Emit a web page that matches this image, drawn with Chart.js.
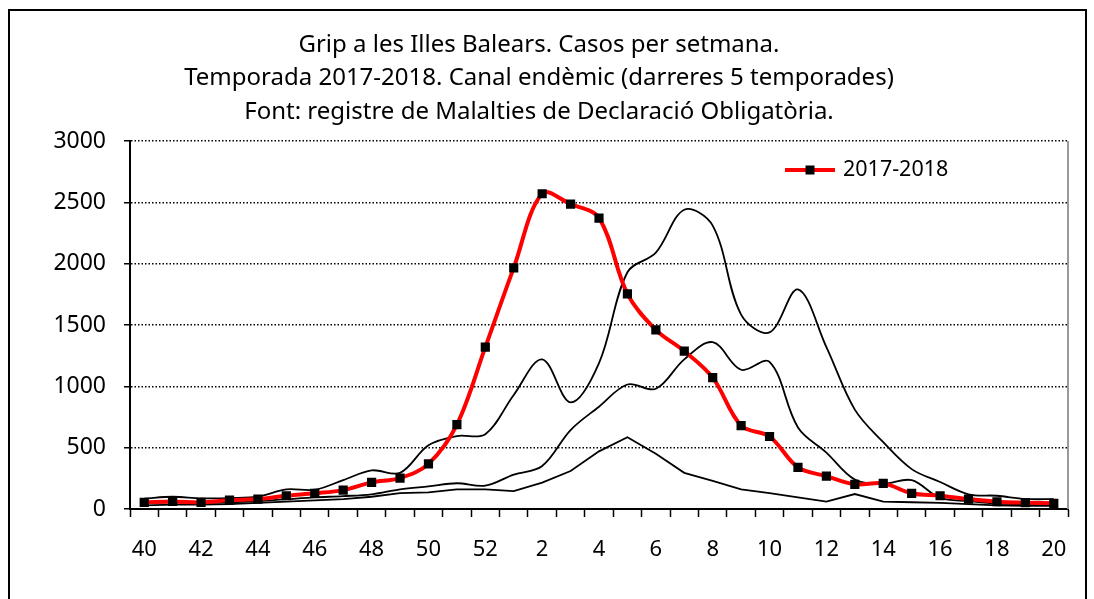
<!DOCTYPE html>
<html>
<head>
<meta charset="utf-8">
<script src="https://cdn.jsdelivr.net/npm/chart.js@4/dist/chart.umd.min.js"></script>
<style>
html,body{margin:0;padding:0;background:#fff;}
canvas{display:block;}
</style>
</head>
<body>
<canvas id="c" width="1094" height="599"></canvas>
<script>
// ---- data ----
const weeks = ['40','41','42','43','44','45','46','47','48','49','50','51','52',
  '1','2','3','4','5','6','7','8','9','10','11','12','13','14','15','16','17','18','19','20'];
const titleLines = [
  'Grip a les Illes Balears. Casos per setmana.',
  'Temporada 2017-2018. Canal endèmic (darreres 5 temporades)',
  'Font: registre de Malalties de Declaració Obligatòria.'
];
const seasonLabel = '2017-2018';
const season2017 = [54, 62, 54, 73, 81, 108, 128, 154, 217, 252, 368, 688, 1320, 1966, 2570, 2485, 2372,
  1754, 1461, 1287, 1071, 680, 591, 339, 268, 201, 209, 128, 108, 81, 59, 51, 46];
const channelHigh = [85, 100, 87, 90, 100, 160, 157, 235, 315, 295, 520, 595, 610, 930, 1220, 870, 1190,
  1930, 2090, 2440, 2310, 1585, 1440, 1790, 1320, 810, 545, 325, 220, 120, 108, 82, 80];
const channelMid = [50, 55, 50, 55, 65, 80, 95, 105, 120, 160, 185, 210, 190, 280, 350, 644, 834,
  1015, 980, 1220, 1360, 1135, 1200, 665, 460, 240, 205, 235, 90, 65, 45, 40, 40];
const channelLow = [30, 35, 35, 40, 50, 60, 70, 80, 100, 130, 135, 160, 160, 145, 215, 310, 470,
  585, 450, 295, 230, 160, 130, 95, 60, 122, 60, 55, 50, 40, 30, 25, 25];
const yTicks = [0, 500, 1000, 1500, 2000, 2500, 3000];

const FONT = '"Noto Sans", "Open Sans", sans-serif';

const framePlugin = {
  id: 'frame',
  beforeDraw(chart) {
    const ctx = chart.ctx;
    ctx.save();
    ctx.fillStyle = '#fff';
    ctx.fillRect(0, 0, chart.width, chart.height);
    ctx.strokeStyle = '#000';
    ctx.lineWidth = 2;
    ctx.strokeRect(9, 10, chart.width - 17, chart.height + 50);
    ctx.restore();
  },
  beforeDatasetsDraw(chart) {
    const {ctx, chartArea} = chart;
    ctx.save();
    ctx.strokeStyle = '#9a9a9a';
    ctx.lineWidth = 2;
    ctx.beginPath();
    ctx.moveTo(chartArea.right, chartArea.top);
    ctx.lineTo(chartArea.right, chartArea.bottom);
    ctx.stroke();
    ctx.restore();
  }
};

const legendPlugin = {
  id: 'lineLegend',
  afterDraw(chart) {
    const {ctx, chartArea} = chart;
    const ds = chart.data.datasets[0];
    const x0 = chartArea.right - 283;
    const y = chartArea.top + 29;
    ctx.save();
    ctx.strokeStyle = ds.borderColor;
    ctx.lineWidth = ds.borderWidth;
    ctx.beginPath();
    ctx.moveTo(x0, y);
    ctx.lineTo(x0 + 50, y);
    ctx.stroke();
    ctx.fillStyle = ds.pointBackgroundColor;
    ctx.fillRect(x0 + 25 - 4.5, y - 4.5, 9, 9);
    ctx.fillStyle = '#000';
    ctx.font = '21.5px ' + FONT;
    ctx.textBaseline = 'middle';
    ctx.textAlign = 'left';
    ctx.fillText(ds.label, x0 + 58, y);
    ctx.restore();
  }
};

new Chart(document.getElementById('c'), {
  type: 'line',
  data: {
    labels: weeks,
    datasets: [
      {
        label: seasonLabel,
        data: season2017,
        borderColor: 'rgb(255,0,0)',
        borderWidth: 4,
        pointStyle: 'rect',
        pointRadius: 6.5,
        pointBackgroundColor: '#000',
        pointBorderColor: '#000',
        pointBorderWidth: 0,
        tension: 0.35,
        fill: false
      },
      { label: 'high', data: channelHigh, borderColor: '#000', borderWidth: 1.8, pointRadius: 0, tension: 0.35, fill: false },
      { label: 'mid', data: channelMid, borderColor: '#000', borderWidth: 1.8, pointRadius: 0, tension: 0.35, fill: false },
      { label: 'low', data: channelLow, borderColor: '#000', borderWidth: 1.8, pointRadius: 0, tension: 0, fill: false }
    ]
  },
  options: {
    responsive: false,
    animation: false,
    devicePixelRatio: 1,
    layout: { padding: { left: 10, right: 26, top: 0, bottom: 0 } },
    plugins: {
      legend: { display: false },
      tooltip: { enabled: false },
      title: {
        display: true,
        text: titleLines,
        color: '#000',
        font: { family: FONT, size: 24, weight: 'normal', lineHeight: 33.5 / 24 },
        padding: { top: 28, bottom: 12.5 }
      }
    },
    scales: {
      x: {
        type: 'category',
        offset: true,
        afterFit(scale) { scale.height = 90; },
        grid: { offset: true, drawOnChartArea: false, drawTicks: true, tickLength: 8, tickColor: '#000', tickWidth: 1.5 },
        border: { display: true, color: '#000', width: 2 },
        ticks: {
          autoSkip: false, maxRotation: 0, minRotation: 0,
          color: '#000', padding: 20,
          font: { family: FONT, size: 22 },
          callback: (v, i) => (i % 2 === 0 ? weeks[i] : '')
        }
      },
      y: {
        min: yTicks[0],
        max: yTicks[yTicks.length - 1],
        afterFit(scale) { scale.width = 120; },
        afterBuildTicks(scale) { scale.ticks = yTicks.map(v => ({ value: v })); },
        grid: { color: '#000', lineWidth: 1.5, tickLength: 6, tickColor: '#000', tickWidth: 1.5, drawTicks: true },
        border: { display: true, color: '#000', width: 2, dash: [1.5, 2] },
        ticks: { color: '#000', padding: 18, font: { family: FONT, size: 23 }, callback: (v) => String(v) }
      }
    }
  },
  plugins: [framePlugin, legendPlugin]
});
</script>
</body>
</html>
